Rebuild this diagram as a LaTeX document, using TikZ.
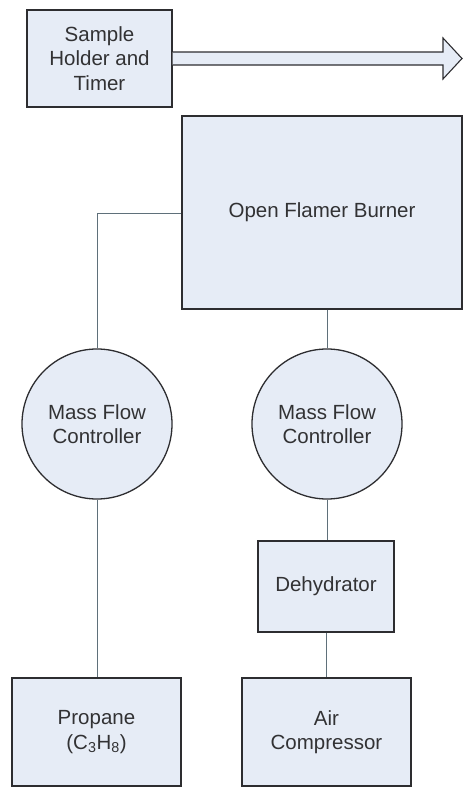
\documentclass[tikz,border=0pt]{standalone}
\usepackage{fontspec}
\setmainfont{Liberation Sans}
\usetikzlibrary{calc}
\definecolor{boxfill}{RGB}{230,236,246}
\definecolor{boxline}{RGB}{45,45,48}
\definecolor{wire}{RGB}{95,112,122}
\definecolor{txt}{RGB}{50,50,52}
\tikzset{
  unit/.style={draw=boxline, line width=1.3pt, fill=boxfill, text=txt, align=center,
    inner sep=0pt, font=\fontsize{20.5}{24.5}\selectfont},
  blockbox/.style={unit, rectangle},
  mfc/.style={unit, circle, minimum size=150pt},
  wireline/.style={draw=wire, line width=1pt},
}
\begin{document}
\begin{tikzpicture}[x=1pt,y=-1pt]
\useasboundingbox (0,0) rectangle (466,787);
% nodes
\node[blockbox, minimum width=145pt, minimum height=97pt] (sample) at (99.5,58.5) {Sample\\Holder and\\Timer};
\node[blockbox, minimum width=280pt, minimum height=193pt] (burner) at (322,212.5) {Open Flamer Burner};
\node[mfc] (mfcL) at (97,424) {Mass Flow\\Controller};
\node[mfc] (mfcR) at (327,424) {Mass Flow\\Controller};
\node[blockbox, minimum width=136pt, minimum height=91pt] (dehyd) at (326,586.5) {Dehydrator};
\node[blockbox, minimum width=169pt, minimum height=108pt] (propane) at (96.5,732) {Propane\\(C\textsubscript{3}H\textsubscript{8})};
\node[blockbox, minimum width=169pt, minimum height=108pt] (aircomp) at (326.5,732) {Air\\Compressor};
% connectors
\draw[wireline] (burner.west |- 0,213) -| (mfcL.north);
\draw[wireline] (burner.south -| mfcR.north) -- (mfcR.north);
\draw[wireline] (mfcL.south) -- (propane.north -| mfcL.south);
\draw[wireline] (mfcR.south) -- (dehyd.north -| mfcR.south);
\draw[wireline] (dehyd.south) -- (aircomp.north -| dehyd.south);
% big hollow arrow
\coordinate (tip) at (462,58.5);
\draw[draw=boxline, line width=1.1pt, fill=boxfill, line join=miter]
  ($(sample.east)+(0,-6.5)$) -- ($(tip)+(-19,-6.5)$) -- ($(tip)+(-19,-20.5)$) -- (tip)
  -- ($(tip)+(-19,20.5)$) -- ($(tip)+(-19,6.5)$) -- ($(sample.east)+(0,6.5)$);
\end{tikzpicture}
\end{document}
